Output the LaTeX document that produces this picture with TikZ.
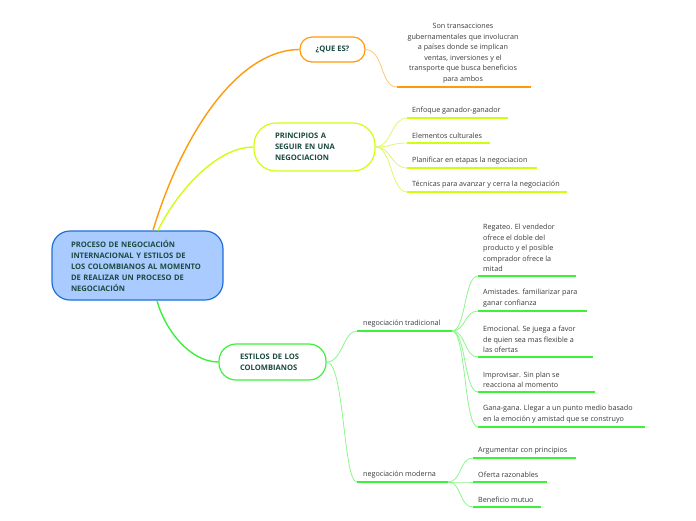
\documentclass[tikz,border=0pt]{standalone}
\usepackage{fontspec}
\setmainfont{Open Sans}
\definecolor{cfill}{HTML}{A9CBFF}
\definecolor{cborder}{HTML}{1F6FDB}
\definecolor{lbl}{HTML}{1B4A3E}
\definecolor{leaftxt}{HTML}{3A3A3A}
\definecolor{orm}{HTML}{FF9A0A}
\definecolor{orl}{HTML}{FFC57A}
\definecolor{yem}{HTML}{CFFF10}
\definecolor{yel}{HTML}{DDF86A}
\definecolor{grm}{HTML}{3CF03C}
\definecolor{grl}{HTML}{8EF58E}
\tikzset{
  central/.style={draw=cborder, fill=cfill, line width=1.2pt, rounded corners=18pt,
    text=lbl, font=\bfseries\fontsize{7.6}{11}\selectfont, align=left},
  topic/.style={draw=#1, fill=white, line width=1.2pt, text=lbl,
    font=\bfseries\fontsize{7.6}{11}\selectfont, align=left},
  leaf/.style={inner sep=0pt, anchor=south west, align=left, text=leaftxt,
    font=\fontsize{7.2}{10.5}\selectfont},
  ul/.style={draw=#1, line width=2pt},
  con/.style={draw=#1, line width=0.8pt},
  mcon/.style={draw=#1, line width=1.4pt},
}
\begin{document}
\begin{tikzpicture}[x=1pt,y=-1pt]
\useasboundingbox (0,0) rectangle (696,520);

% central
\node[central, minimum width=171pt, minimum height=69pt, text width=133pt, inner xsep=19pt]
  (c) at (137.5,265.5) {PROCESO DE NEGOCIACIÓN\\INTERNACIONAL Y ESTILOS DE\\LOS COLOMBIANOS AL MOMENTO\\DE REALIZAR UN PROCESO DE\\NEGOCIACIÓN};

% main topics
\node[topic=orm, rounded corners=12pt, minimum width=65pt, minimum height=25pt, align=center]
  (q) at (332.5,49.5) {¿QUE ES?};
\node[topic=yem, rounded corners=22pt, minimum width=121pt, minimum height=48pt, text width=79pt, inner xsep=21pt]
  (p) at (314.5,147) {PRINCIPIOS A\\SEGUIR EN UNA\\NEGOCIACION};
\node[topic=grm, rounded corners=17pt, minimum width=107pt, minimum height=36pt, text width=65pt, inner xsep=21pt]
  (e) at (272.5,362) {ESTILOS DE LOS\\COLOMBIANOS};

% main connectors
\draw[mcon=orm] ([xshift=15.5pt]c.north) .. controls (180,140) and (235,50) .. (q.west);
\draw[mcon=yem] ([xshift=20.5pt]c.north) .. controls (175,195) and (215,147) .. (p.west);
\draw[mcon=grm] ([xshift=19.5pt]c.south) .. controls (165,330) and (190,362) .. (e.west);

% QUE ES description
\coordinate (qds) at (397,87);
\coordinate (qde) at (531,87);
\draw[con=orl] (q.east) .. controls (384,50) and (380,87) .. (qds);
\draw[ul=orm] (qds) -- (qde);
\node[leaf, anchor=south, align=center] (qd) at (463,83)
  {Son transacciones\\gubernamentales que involucran\\a países donde se implican\\ventas, inversiones y el\\transporte que busca beneficios\\para ambos};

% principios leaves
\coordinate (p1s) at (407,118); \coordinate (p1e) at (508,118);
\coordinate (p2s) at (407,143); \coordinate (p2e) at (490,143);
\coordinate (p3s) at (407,168); \coordinate (p3e) at (537,168);
\coordinate (p4s) at (407,192); \coordinate (p4e) at (567,192);
\foreach \i in {1,...,4}{
  \draw[con=yel] (p.east) .. controls +(16,0) and +(-16,0) .. (p\i s);
  \draw[ul=yem] (p\i s) -- (p\i e);
}
\node[leaf] (p1) at ([xshift=5pt,yshift=4pt]p1s) {Enfoque ganador-ganador};
\node[leaf] (p2) at ([xshift=5pt,yshift=4pt]p2s) {Elementos culturales};
\node[leaf] (p3) at ([xshift=5pt,yshift=4pt]p3s) {Planificar en etapas la negociacion};
\node[leaf] (p4) at ([xshift=5pt,yshift=4pt]p4s) {Técnicas para avanzar y cerra la negociación};

% estilos sub-topics
\coordinate (ts) at (357,331); \coordinate (te) at (452,331);
\coordinate (ms) at (357,482); \coordinate (me) at (448,482);
\draw[con=grl] (e.east) .. controls +(16,0) and +(-14,0) .. (ts);
\draw[con=grl] (e.east) .. controls +(18,0) and +(-14,0) .. (ms);
\draw[ul=grm] (ts) -- (te);
\draw[ul=grm] (ms) -- (me);
\node[leaf] (t) at ([xshift=6pt,yshift=4pt]ts) {negociación tradicional};
\node[leaf] (m) at ([xshift=6pt,yshift=4pt]ms) {negociación moderna};

% tradicional leaves
\coordinate (t1s) at (478,276); \coordinate (t1e) at (576,276);
\coordinate (t2s) at (478,311); \coordinate (t2e) at (587,311);
\coordinate (t3s) at (478,357); \coordinate (t3e) at (593,357);
\coordinate (t4s) at (478,392); \coordinate (t4e) at (595,392);
\coordinate (t5s) at (478,427); \coordinate (t5e) at (645,427);
\foreach \i in {1,...,5}{
  \draw[con=grl] (te) .. controls +(14,0) and +(-14,0) .. (t\i s);
  \draw[ul=grm] (t\i s) -- (t\i e);
}
\node[leaf] (t1) at ([xshift=5pt,yshift=4pt]t1s) {Regateo. El vendedor\\ofrece el doble del\\producto y el posible\\comprador ofrece la\\mitad};
\node[leaf] (t2) at ([xshift=5pt,yshift=4pt]t2s) {Amistades. familiarizar para\\ganar confianza};
\node[leaf] (t3) at ([xshift=5pt,yshift=4pt]t3s) {Emocional. Se juega a favor\\de quien sea mas flexible a\\las ofertas};
\node[leaf] (t4) at ([xshift=5pt,yshift=4pt]t4s) {Improvisar. Sin plan se\\reacciona al momento};
\node[leaf] (t5) at ([xshift=5pt,yshift=4pt]t5s) {Gana-gana. Llegar a un punto medio basado\\en la emoción y amistad que se construyo};

% moderna leaves
\coordinate (m1s) at (473,458); \coordinate (m1e) at (576,458);
\coordinate (m2s) at (473,482); \coordinate (m2e) at (547,482);
\coordinate (m3s) at (473,507); \coordinate (m3e) at (541,507);
\foreach \i in {1,...,3}{
  \draw[con=grl] (me) .. controls +(14,0) and +(-14,0) .. (m\i s);
  \draw[ul=grm] (m\i s) -- (m\i e);
}
\node[leaf] (m1) at ([xshift=5pt,yshift=4pt]m1s) {Argumentar con principios};
\node[leaf] (m2) at ([xshift=5pt,yshift=4pt]m2s) {Oferta razonables};
\node[leaf] (m3) at ([xshift=5pt,yshift=4pt]m3s) {Beneficio mutuo};
\end{tikzpicture}
\end{document}
